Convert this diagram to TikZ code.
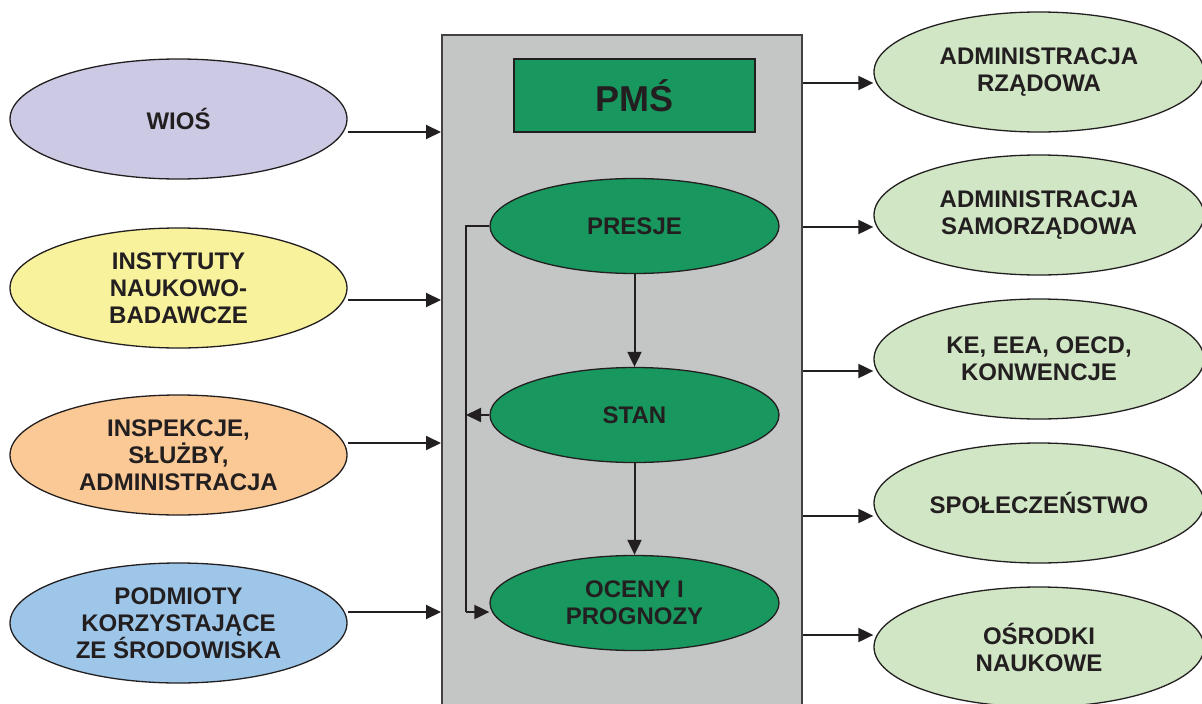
\documentclass[tikz,border=0pt]{standalone}
\usepackage{fontspec}
\setmainfont{Liberation Sans}
\usetikzlibrary{shapes.geometric,arrows.meta,calc}
\definecolor{boxgray}{HTML}{C4C6C6}
\definecolor{pmsgreen}{HTML}{18975E}
\definecolor{lav}{HTML}{CCC9E4}
\definecolor{yel}{HTML}{F7F29B}
\definecolor{ora}{HTML}{FBC995}
\definecolor{blu}{HTML}{9DC6E8}
\definecolor{lgreen}{HTML}{D1E6C5}
\definecolor{ink}{HTML}{231F20}
\tikzset{
  lbl/.style={font=\bfseries\fontsize{24}{27}\selectfont, text=ink, align=center},
  leftell/.style={ellipse, draw=ink, line width=1.3pt, minimum width=337pt, minimum height=120pt, inner sep=0pt, lbl},
  rightell/.style={ellipse, draw=ink, line width=1.3pt, fill=lgreen, minimum width=330pt, minimum height=120pt, inner sep=0pt, lbl},
  midell/.style={ellipse, draw=ink, line width=1.3pt, fill=pmsgreen, minimum width=289pt, minimum height=95pt, inner sep=0pt, lbl},
  conn/.style={draw=ink, line width=2pt},
  arr/.style={conn, -{Triangle[length=15pt,width=14pt]}},
}
\begin{document}
\begin{tikzpicture}[x=1pt,y=-1pt]
\useasboundingbox (0,0) rectangle (1202,704);
\fill[white] (0,0) rectangle (1202,704);
\clip (0,0) rectangle (1202,704);
% central gray panel
\node[draw=ink!85, line width=2pt, fill=boxgray, minimum width=360pt, minimum height=690pt, inner sep=0pt] (box) at (622,380) {};
\node[draw=ink, line width=1.6pt, fill=pmsgreen, minimum width=241pt, minimum height=73pt, inner sep=0pt, font=\bfseries\fontsize{36}{40}\selectfont, text=ink] (pms) at (634.5,95.5) {PMŚ};
% middle ellipses
\node[midell] (presje) at (634.5,226) {PRESJE};
\node[midell] (stan) at (634.5,415) {STAN};
\node[midell] (oceny) at (634.5,603) {OCENY I\\PROGNOZY};
% left ellipses
\node[leftell, fill=lav] (wios) at (178.5,119) {WIOŚ};
\node[leftell, fill=yel] (inst) at (178.5,288) {INSTYTUTY\\NAUKOWO-\\BADAWCZE};
\node[leftell, fill=ora] (insp) at (178.5,455) {INSPEKCJE,\\SŁUŻBY,\\ADMINISTRACJA};
\node[leftell, fill=blu] (podm) at (178.5,623) {PODMIOTY\\KORZYSTAJĄCE\\ZE ŚRODOWISKA};
% right ellipses
\node[rightell] (rzad) at (1039,72) {ADMINISTRACJA\\RZĄDOWA};
\node[rightell] (samo) at (1039,215) {ADMINISTRACJA\\SAMORZĄDOWA};
\node[rightell] (ke) at (1039,359) {KE, EEA, OECD,\\KONWENCJE};
\node[rightell] (spol) at (1039,503) {SPOŁECZEŃSTWO};
\node[rightell] (osr) at (1039,647) {OŚRODKI\\NAUKOWE};
% left arrows into the panel
\draw[arr] (wios.east |- 0,132) -- (box.west |- 0,132);
\draw[arr] (inst.east |- 0,300) -- (box.west |- 0,300);
\draw[arr] (insp.east |- 0,443) -- (box.west |- 0,443);
\draw[arr] (podm.east |- 0,612) -- (box.west |- 0,612);
% right arrows out of the panel
\draw[arr] (box.east |- 0,83) -- (rzad.west |- 0,83);
\draw[arr] (box.east |- 0,227) -- (samo.west |- 0,227);
\draw[arr] (box.east |- 0,371) -- (ke.west |- 0,371);
\draw[arr] (box.east |- 0,516) -- (spol.west |- 0,516);
\draw[arr] (box.east |- 0,635) -- (osr.west |- 0,635);
% internal flow
\draw[arr] (presje.south) -- (stan.north);
\draw[arr] (stan.south) -- (oceny.north);
\coordinate (fbtop) at (466,226);
\coordinate (fbbot) at (466,612);
\draw[conn] (presje.west) -- (fbtop) -- (fbbot);
\draw[arr] (fbbot) -- (oceny.west |- fbbot);
\draw[arr] (stan.west) -- (stan.west -| fbtop);
\end{tikzpicture}
\end{document}
